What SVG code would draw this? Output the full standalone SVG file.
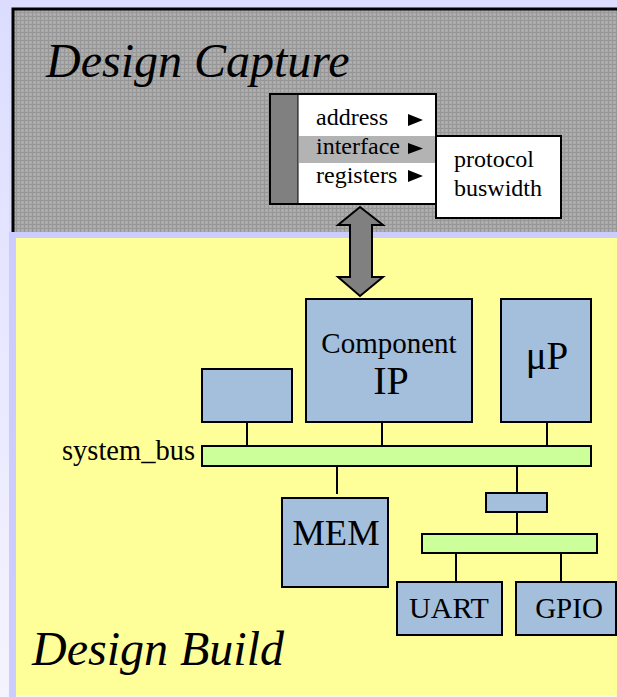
<svg xmlns="http://www.w3.org/2000/svg" width="617" height="697" viewBox="0 0 617 697">
  <style>
    text { font-family: "Liberation Serif", "Times New Roman", serif; fill: #000; }
    .title { font-style: italic; font-size: 48px; }
    .menu-item { font-size: 24px; }
    .blk { fill: #a3bfdb; stroke: #000; stroke-width: 2; }
    .bus { fill: #ccff99; stroke: #000; stroke-width: 2; }
    .wire { stroke: #000; stroke-width: 2; fill: none; }
    .tri { fill: #000; }
  </style>
  <defs>
    <pattern id="weave" width="8" height="8" patternUnits="userSpaceOnUse">
      <rect width="8" height="8" fill="#aaaaaa"/>
      <rect x="0" y="0" width="8" height="1" fill="#959595"/>
      <rect x="0" y="4" width="8" height="1" fill="#999999"/>
      <rect x="0" y="0" width="1" height="8" fill="#979797"/>
      <rect x="4" y="0" width="1" height="8" fill="#9b9b9b"/>
      <rect x="2" y="2" width="1" height="1" fill="#bdbdbd"/>
      <rect x="6" y="6" width="1" height="1" fill="#bdbdbd"/>
      <rect x="6" y="2" width="1" height="1" fill="#b5b5b5"/>
      <rect x="2" y="6" width="1" height="1" fill="#b5b5b5"/>
    </pattern>
    <linearGradient id="edge" x1="0" y1="0" x2="0" y2="1">
      <stop offset="0" stop-color="#dcdcff"/>
      <stop offset="1" stop-color="#f4f4ff"/>
    </linearGradient>
  </defs>

  <!-- backdrop -->
  <rect width="617" height="697" fill="#dcdcff"/>
  <rect x="0" y="0" width="9" height="697" fill="url(#edge)"/>
  <rect x="9" y="232" width="608" height="465" fill="#ccccff"/>

  <!-- capture panel -->
  <rect x="12" y="8" width="605" height="224" fill="url(#weave)"/>
  <path d="M13 232 V9 H617" fill="none" stroke="#000" stroke-width="3"/>

  <!-- build panel -->
  <rect x="16" y="238" width="601" height="457" fill="#ffff99"/>
  <rect x="16" y="695" width="601" height="2" fill="#f6f6ee"/>

  <g id="title-capture">
    <text class="title" x="46" y="77">Design Capture</text>
  </g>
  <g id="title-build">
    <text class="title" x="32" y="665">Design Build</text>
  </g>

  <!-- menu -->
  <g id="menu">
    <rect x="270" y="94" width="166" height="110" fill="#fff" stroke="#000" stroke-width="2"/>
    <rect x="271" y="95" width="27" height="108" fill="#808080"/>
    <line x1="298" y1="95" x2="298" y2="203" stroke="#000" stroke-width="1"/>
    <rect x="299" y="136" width="136" height="27" fill="#b3b3b3"/>
    <text class="menu-item" x="316" y="125">address</text>
    <text class="menu-item" x="316" y="154">interface</text>
    <text class="menu-item" x="316" y="183">registers</text>
    <polygon class="tri" points="408,114 423,120 408,126"/>
    <polygon class="tri" points="408,143 423,148.5 408,154"/>
    <polygon class="tri" points="408,170 423,176 408,182"/>
  </g>
  <g id="submenu">
    <rect x="436" y="136" width="125" height="82" fill="#fff" stroke="#000" stroke-width="2"/>
    <text class="menu-item" x="454" y="167">protocol</text>
    <text class="menu-item" x="454" y="196">buswidth</text>
  </g>

  <!-- blocks -->
  <g id="component-ip">
    <rect class="blk" x="306" y="299" width="166" height="123"/>
    <text x="389" y="353" font-size="29" text-anchor="middle">Component</text>
    <text x="391" y="394" font-size="40" text-anchor="middle">IP</text>
  </g>
  <g id="blank-block">
    <rect class="blk" x="202" y="369" width="90" height="53"/>
  </g>
  <g id="up">
    <rect class="blk" x="501" y="299" width="90" height="123"/>
    <text x="547" y="369" font-size="39" text-anchor="middle">μP</text>
  </g>
  <g id="system-bus">
    <rect class="bus" x="202" y="446" width="389" height="20"/>
    <text x="62" y="460" font-size="28.5">system_bus</text>
  </g>
  <g id="mem">
    <rect class="blk" x="282" y="498" width="106" height="89"/>
    <text x="336" y="545" font-size="36.5" text-anchor="middle">MEM</text>
  </g>
  <g id="bridge">
    <rect class="blk" x="486" y="493" width="61" height="19"/>
  </g>
  <g id="peripheral-bus">
    <rect class="bus" x="422" y="534" width="175" height="19"/>
  </g>
  <g id="uart">
    <rect class="blk" x="397" y="582" width="105" height="53"/>
    <text x="449" y="618" font-size="30" text-anchor="middle">UART</text>
  </g>
  <g id="gpio">
    <rect class="blk" x="516" y="582" width="100" height="53"/>
    <text x="569" y="618" font-size="29" text-anchor="middle">GPIO</text>
  </g>

  <!-- connectors -->
  <g id="connectors">
    <line class="wire" x1="247" y1="422" x2="247" y2="446"/>
    <line class="wire" x1="382" y1="422" x2="382" y2="446"/>
    <line class="wire" x1="547" y1="422" x2="547" y2="446"/>
    <line class="wire" x1="337" y1="466" x2="337" y2="494"/>
    <line class="wire" x1="517" y1="466" x2="517" y2="493"/>
    <line class="wire" x1="517" y1="512" x2="517" y2="534"/>
    <line class="wire" x1="456" y1="553" x2="456" y2="582"/>
    <line class="wire" x1="561" y1="553" x2="561" y2="582"/>
    <polygon points="360,207 383,225 372,225 372,277 383,277 360,296 338,277 350,277 350,225 338,225"
             fill="#808080" stroke="#000" stroke-width="2" stroke-linejoin="miter"/>
  </g>
</svg>
